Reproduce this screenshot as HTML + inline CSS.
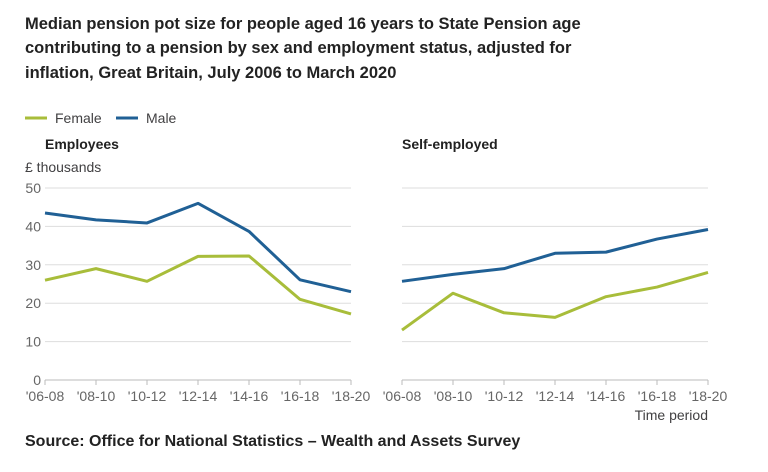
<!DOCTYPE html>
<html><head><meta charset="utf-8"><style>
body{margin:0;width:768px;height:467px;background:#fff;font-family:"Liberation Sans",sans-serif;overflow:hidden}
svg text{font-family:"Liberation Sans",sans-serif}
</style></head><body>
<svg id="chart" width="768" height="467" xmlns="http://www.w3.org/2000/svg">
<text font-weight="bold" font-size="16.5" fill="#222"><tspan x="25" y="29">Median pension pot size for people aged 16 years to State Pension age</tspan><tspan x="25" y="53">contributing to a pension by sex and employment status, adjusted for</tspan><tspan x="25" y="78">inflation, Great Britain, July 2006 to March 2020</tspan></text>
<g>
<line x1="25" y1="118" x2="47" y2="118" stroke="#a8bd3a" stroke-width="3"/>
<text x="55" y="123" font-size="14" fill="#414042">Female</text>
<line x1="116" y1="118" x2="138" y2="118" stroke="#206095" stroke-width="3"/>
<text x="146" y="123" font-size="14" fill="#414042">Male</text>
</g>
<text x="45" y="149" font-size="14" font-weight="bold" fill="#222">Employees</text>
<text x="402" y="149" font-size="14" font-weight="bold" fill="#222">Self-employed</text>
<text x="25" y="172" font-size="14" fill="#414042">£ thousands</text>
<text x="708" y="420" text-anchor="end" font-size="14" fill="#414042">Time period</text>
<text x="25" y="446" font-size="16" font-weight="bold" fill="#222">Source: Office for National Statistics – Wealth and Assets Survey</text>
<g id="plots"></g>
</svg>
<script>
const categories=["'06-08","'08-10","'10-12","'12-14","'14-16","'16-18","'18-20"];
const yTicks=[0,10,20,30,40,50];
const empFemale=[26,29,25.7,32.2,32.3,21,17.2];
const empMale=[43.5,41.7,40.9,46,38.7,26.1,23];
const seFemale=[13,22.6,17.5,16.3,21.7,24.2,28];
const seMale=[25.7,27.5,29,33,33.3,36.7,39.2];
const NS="http://www.w3.org/2000/svg";
const g=document.getElementById('plots');
function mk(t,a){const e=document.createElementNS(NS,t);for(const k in a)e.setAttribute(k,a[k]);g.appendChild(e);return e;}
const y=v=>380-v*(192/50);
function panel(x0,x1,showY,female,male,name){
  const x=i=>x0+i*(x1-x0)/(categories.length-1);
  yTicks.forEach(t=>{
    const l=mk('line',{x1:x0,x2:x1,y1:y(t),y2:y(t),stroke:t===0?'#bbb':'#ddd','stroke-width':1});
    
    
    if(showY){const tx=mk('text',{x:41,y:y(t)+5,'text-anchor':'end','font-size':14,fill:'#666'});tx.textContent=t;
    
    }
  });
  categories.forEach((c,i)=>{
    const tk=mk('line',{x1:x(i),x2:x(i),y1:380,y2:385,stroke:'#bbb'});
    
    
    const tx=mk('text',{x:x(i),y:401,'text-anchor':'middle','font-size':14,fill:'#666'});tx.textContent=c;
    
    
  });
  [[female,'#a8bd3a','female'],[male,'#206095','male']].forEach(([d,col,n])=>{
    const p=mk('polyline',{points:d.map((v,i)=>x(i)+','+y(v)).join(' '),fill:'none',stroke:col,'stroke-width':3,'stroke-linejoin':'round'});
    
    
  });
}
panel(45,351,true,empFemale,empMale,'employees');
panel(402,708,false,seFemale,seMale,'self-employed');
</script>
</body></html>
